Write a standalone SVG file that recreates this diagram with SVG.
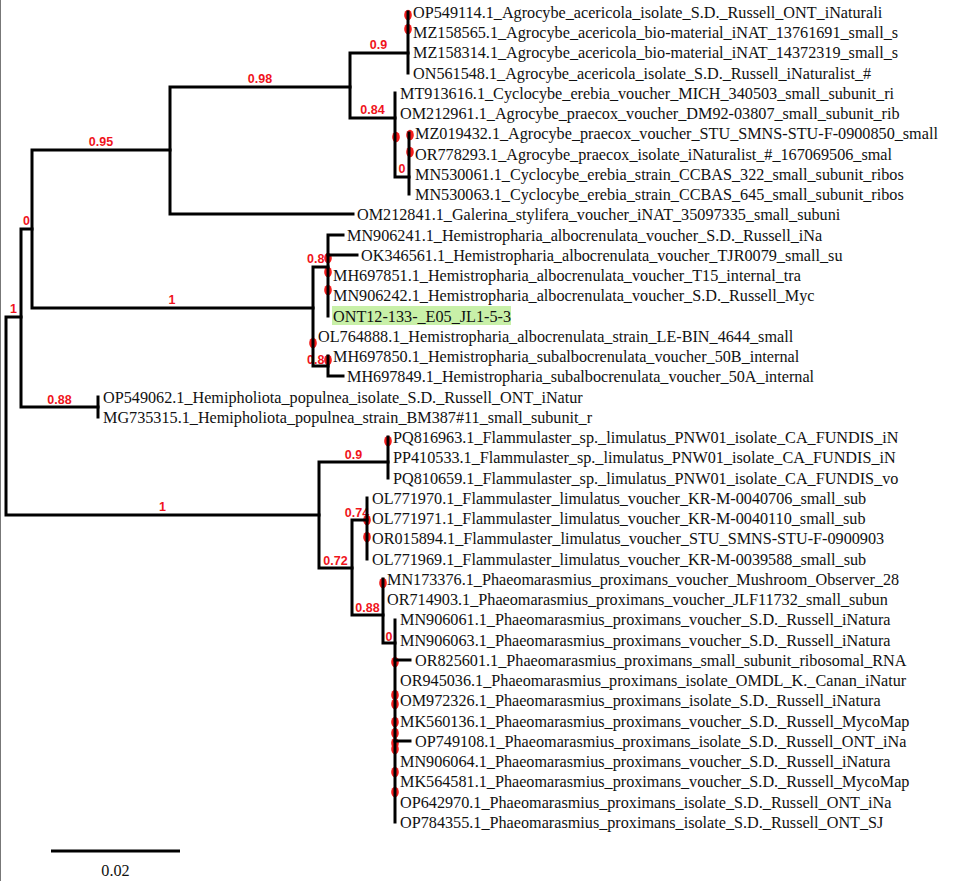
<svg xmlns="http://www.w3.org/2000/svg" width="956" height="881" viewBox="0 0 956 881">
<style>
.br{stroke:#000;stroke-width:3;fill:none;stroke-linecap:square}
.lf{font-family:"Liberation Serif","Times New Roman",serif;font-size:16.2px;fill:#111}
.sp{font-family:"Liberation Sans",Arial,sans-serif;font-size:12.5px;font-weight:bold;fill:#f0141c;text-anchor:middle}
.spl{font-family:"Liberation Sans",Arial,sans-serif;font-size:12.5px;font-weight:bold;fill:#f0141c}
.dt{fill:#f41c1c}
</style>
<rect width="956" height="881" fill="#fff"/>
<line x1="0.5" y1="0" x2="0.5" y2="881" stroke="#777" stroke-width="1"/>
<g id="highlight"><rect x="332" y="306" width="179" height="19" fill="#c8f0a8"/></g>
<g id="support-labels">
<text class="sp" x="13.5" y="313">1</text>
<text class="sp" x="26.5" y="225">0</text>
<text class="sp" x="59.5" y="404">0.88</text>
<text class="sp" x="101" y="146">0.95</text>
<text class="sp" x="172" y="304">1</text>
<text class="sp" x="260" y="83">0.98</text>
<text class="sp" x="378.5" y="49">0.9</text>
<text class="sp" x="372.5" y="114">0.84</text>
<text class="sp" x="402" y="173">0</text>
<text class="spl" x="307" y="263">0.8</text>
<text class="spl" x="307" y="364">0.86</text>
<text class="sp" x="162.5" y="511">1</text>
<text class="sp" x="353.5" y="459">0.9</text>
<text class="sp" x="335.5" y="565">0.72</text>
<text class="sp" x="357" y="517">0.74</text>
<text class="sp" x="367.5" y="612">0.88</text>
<text class="sp" x="389" y="641">0</text>
</g>
<g id="dots">
<ellipse class="dt" cx="408" cy="15" rx="3.8" ry="5.2"/>
<ellipse class="dt" cx="408" cy="29" rx="3.8" ry="5.2"/>
<ellipse class="dt" cx="396" cy="137" rx="3.8" ry="5.2"/>
<ellipse class="dt" cx="410" cy="135" rx="3.8" ry="5.2"/>
<ellipse class="dt" cx="410" cy="152" rx="3.8" ry="5.2"/>
<ellipse class="dt" cx="328" cy="258" rx="3.8" ry="5.2"/>
<ellipse class="dt" cx="328" cy="272" rx="3.8" ry="5.2"/>
<ellipse class="dt" cx="328" cy="290" rx="3.8" ry="5.2"/>
<ellipse class="dt" cx="313" cy="343" rx="3.8" ry="5.2"/>
<ellipse class="dt" cx="328" cy="360" rx="3.8" ry="5.2"/>
<ellipse class="dt" cx="388" cy="441" rx="3.8" ry="5.2"/>
<ellipse class="dt" cx="367" cy="520" rx="3.8" ry="5.2"/>
<ellipse class="dt" cx="367" cy="537" rx="3.8" ry="5.2"/>
<ellipse class="dt" cx="383" cy="583" rx="3.8" ry="5.2"/>
<ellipse class="dt" cx="395" cy="662" rx="3.8" ry="5.2"/>
<ellipse class="dt" cx="395" cy="695" rx="3.8" ry="5.2"/>
<ellipse class="dt" cx="395" cy="704" rx="3.8" ry="5.2"/>
<ellipse class="dt" cx="395" cy="722" rx="3.8" ry="5.2"/>
<ellipse class="dt" cx="395" cy="733" rx="3.8" ry="5.2"/>
<ellipse class="dt" cx="395" cy="743" rx="3.8" ry="5.2"/>
<ellipse class="dt" cx="395" cy="749" rx="3.8" ry="5.2"/>
<ellipse class="dt" cx="395" cy="772" rx="3.8" ry="5.2"/>
<ellipse class="dt" cx="395" cy="792" rx="3.8" ry="5.2"/>
</g>
<g id="connectors" class="br">
<path d="M21 317 H6 V515 H319"/>
<path d="M32 229 H21 V407 H98"/>
<path d="M170 150 H32 V308 H313"/>
<path d="M350 87 H170 V214 H353"/>
<path d="M408 53 H350 V118 H395"/>
<path d="M408 12 V73"/>
<path d="M395 93 V177 H409"/>
<path d="M409 133 V194"/>
<path d="M328 267 H313 V366 H328"/>
<path d="M343 235 H328 V316"/>
<path d="M328 255 H357"/>
<path d="M328 356 V376 H343"/>
<path d="M98 397 V417"/>
<path d="M388 462 H319 V568 H352"/>
<path d="M388 437 V478"/>
<path d="M367 520 H352 V615 H383"/>
<path d="M367 498 V559"/>
<path d="M383 579 V643 H395"/>
<path d="M395 620 V822"/>
<path d="M395 660 H410"/>
<path d="M395 741 H410"/>
</g>
<g id="leaves" class="lf">
<g id="leaf1"><text x="413" y="17.5">OP549114.1_Agrocybe_acericola_isolate_S.D._Russell_ONT_iNaturali</text></g>
<g id="leaf2"><text x="413" y="37.5">MZ158565.1_Agrocybe_acericola_bio-material_iNAT_13761691_small_s</text></g>
<g id="leaf3"><text x="413" y="58">MZ158314.1_Agrocybe_acericola_bio-material_iNAT_14372319_small_s</text></g>
<g id="leaf4"><text x="413" y="78.5">ON561548.1_Agrocybe_acericola_isolate_S.D._Russell_iNaturalist_#</text></g>
<g id="leaf5"><text x="400" y="98.5">MT913616.1_Cyclocybe_erebia_voucher_MICH_340503_small_subunit_ri</text></g>
<g id="leaf6"><text x="400" y="118.5">OM212961.1_Agrocybe_praecox_voucher_DM92-03807_small_subunit_rib</text></g>
<g id="leaf7"><text x="415" y="139">MZ019432.1_Agrocybe_praecox_voucher_STU_SMNS-STU-F-0900850_small</text></g>
<g id="leaf8"><text x="415" y="159.5">OR778293.1_Agrocybe_praecox_isolate_iNaturalist_#_167069506_smal</text></g>
<g id="leaf9"><text x="415" y="179.5">MN530061.1_Cyclocybe_erebia_strain_CCBAS_322_small_subunit_ribos</text></g>
<g id="leaf10"><text x="415" y="199.5">MN530063.1_Cyclocybe_erebia_strain_CCBAS_645_small_subunit_ribos</text></g>
<g id="leaf11"><text x="357" y="220">OM212841.1_Galerina_stylifera_voucher_iNAT_35097335_small_subuni</text></g>
<g id="leaf12"><text x="347" y="240.5">MN906241.1_Hemistropharia_albocrenulata_voucher_S.D._Russell_iNa</text></g>
<g id="leaf13"><text x="361" y="260.5">OK346561.1_Hemistropharia_albocrenulata_voucher_TJR0079_small_su</text></g>
<g id="leaf14"><text x="333" y="280.5">MH697851.1_Hemistropharia_albocrenulata_voucher_T15_internal_tra</text></g>
<g id="leaf15"><text x="333" y="301">MN906242.1_Hemistropharia_albocrenulata_voucher_S.D._Russell_Myc</text></g>
<g id="leaf16"><text x="333" y="321.5">ONT12-133-_E05_JL1-5-3</text></g>
<g id="leaf17"><text x="318" y="341.5">OL764888.1_Hemistropharia_albocrenulata_strain_LE-BIN_4644_small</text></g>
<g id="leaf18"><text x="333" y="361.5">MH697850.1_Hemistropharia_subalbocrenulata_voucher_50B_internal</text></g>
<g id="leaf19"><text x="347" y="382">MH697849.1_Hemistropharia_subalbocrenulata_voucher_50A_internal</text></g>
<g id="leaf20"><text x="103" y="402.5">OP549062.1_Hemipholiota_populnea_isolate_S.D._Russell_ONT_iNatur</text></g>
<g id="leaf21"><text x="103" y="422.5">MG735315.1_Hemipholiota_populnea_strain_BM387#11_small_subunit_r</text></g>
<g id="leaf22"><text x="393" y="442.5">PQ816963.1_Flammulaster_sp._limulatus_PNW01_isolate_CA_FUNDIS_iN</text></g>
<g id="leaf23"><text x="393" y="463">PP410533.1_Flammulaster_sp._limulatus_PNW01_isolate_CA_FUNDIS_iN</text></g>
<g id="leaf24"><text x="393" y="483.5">PQ810659.1_Flammulaster_sp._limulatus_PNW01_isolate_CA_FUNDIS_vo</text></g>
<g id="leaf25"><text x="372" y="503.5">OL771970.1_Flammulaster_limulatus_voucher_KR-M-0040706_small_sub</text></g>
<g id="leaf26"><text x="372" y="523.5">OL771971.1_Flammulaster_limulatus_voucher_KR-M-0040110_small_sub</text></g>
<g id="leaf27"><text x="372" y="544">OR015894.1_Flammulaster_limulatus_voucher_STU_SMNS-STU-F-0900903</text></g>
<g id="leaf28"><text x="372" y="564.5">OL771969.1_Flammulaster_limulatus_voucher_KR-M-0039588_small_sub</text></g>
<g id="leaf29"><text x="387" y="584.5">MN173376.1_Phaeomarasmius_proximans_voucher_Mushroom_Observer_28</text></g>
<g id="leaf30"><text x="387" y="604.5">OR714903.1_Phaeomarasmius_proximans_voucher_JLF11732_small_subun</text></g>
<g id="leaf31"><text x="400" y="625">MN906061.1_Phaeomarasmius_proximans_voucher_S.D._Russell_iNatura</text></g>
<g id="leaf32"><text x="400" y="645.5">MN906063.1_Phaeomarasmius_proximans_voucher_S.D._Russell_iNatura</text></g>
<g id="leaf33"><text x="415" y="665.5">OR825601.1_Phaeomarasmius_proximans_small_subunit_ribosomal_RNA</text></g>
<g id="leaf34"><text x="400" y="685.5">OR945036.1_Phaeomarasmius_proximans_isolate_OMDL_K._Canan_iNatur</text></g>
<g id="leaf35"><text x="400" y="706">OM972326.1_Phaeomarasmius_proximans_isolate_S.D._Russell_iNatura</text></g>
<g id="leaf36"><text x="400" y="726.5">MK560136.1_Phaeomarasmius_proximans_voucher_S.D._Russell_MycoMap</text></g>
<g id="leaf37"><text x="415" y="746.5">OP749108.1_Phaeomarasmius_proximans_isolate_S.D._Russell_ONT_iNa</text></g>
<g id="leaf38"><text x="400" y="766.5">MN906064.1_Phaeomarasmius_proximans_voucher_S.D._Russell_iNatura</text></g>
<g id="leaf39"><text x="400" y="787">MK564581.1_Phaeomarasmius_proximans_voucher_S.D._Russell_MycoMap</text></g>
<g id="leaf40"><text x="400" y="807.5">OP642970.1_Phaeomarasmius_proximans_isolate_S.D._Russell_ONT_iNa</text></g>
<g id="leaf41"><text x="400" y="827.5">OP784355.1_Phaeomarasmius_proximans_isolate_S.D._Russell_ONT_SJ</text></g>
</g>
<g id="scale-bar">
<line x1="51" y1="851" x2="180" y2="851" stroke="#000" stroke-width="3"/>
<text class="lf" x="115.5" y="876" text-anchor="middle">0.02</text>
</g>
</svg>
